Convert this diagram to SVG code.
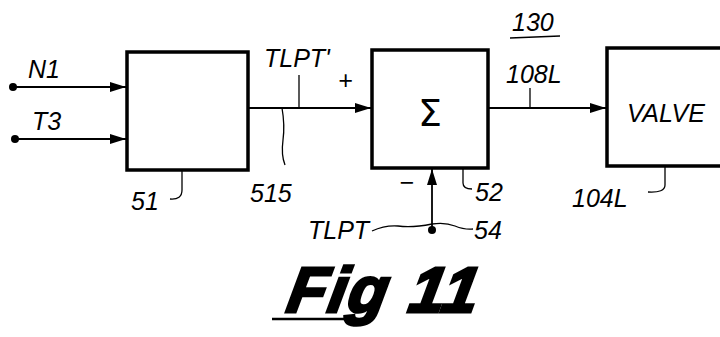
<svg xmlns="http://www.w3.org/2000/svg" width="720" height="337" viewBox="0 0 720 337">
<defs>
<style>
.box{fill:#fff;stroke:#000;stroke-width:3.5}
.ln{fill:none;stroke:#000;stroke-width:1.8}
.thin{fill:none;stroke:#000;stroke-width:1.3}
.lbl{font-family:"Liberation Sans",Arial,sans-serif;font-style:italic;font-size:25px;fill:#000}
</style>
<marker id="ah" markerWidth="16" markerHeight="10" refX="16" refY="5" orient="auto" markerUnits="userSpaceOnUse">
<path d="M0,0 L16,5 L0,10 Z" fill="#000"/>
</marker>
</defs>
<rect width="720" height="337" fill="#fff"/>
<g id="connectors">
<circle cx="13" cy="87" r="4" fill="#000"/>
<line class="ln" x1="13" y1="87" x2="126" y2="87" marker-end="url(#ah)"/>
<circle cx="15" cy="139" r="4" fill="#000"/>
<line class="ln" x1="15" y1="139" x2="126" y2="139" marker-end="url(#ah)"/>
<line class="ln" x1="249" y1="108" x2="371" y2="108" marker-end="url(#ah)"/>
<line class="ln" x1="489" y1="108" x2="606" y2="108" marker-end="url(#ah)"/>
<circle cx="432" cy="230" r="4" fill="#000"/>
<line class="ln" x1="432" y1="230" x2="432" y2="169" marker-end="url(#ah)"/>
</g>
<g id="inputs">
<text class="lbl" x="28" y="78">N1</text>
<text class="lbl" x="32" y="130">T3</text>
</g>
<g id="n51">
<rect class="box" x="127" y="52" width="121" height="118"/>
<path class="thin" d="M182,171 V190 Q182,200 170,199"/>
<text class="lbl" x="131" y="210">51</text>
</g>
<g id="tlpt-prime">
<text class="lbl" x="264" y="67">TLPT'</text>
<line class="thin" x1="299" y1="75" x2="299" y2="108"/>
<text class="lbl" x="338" y="89">+</text>
</g>
<g id="n515">
<path class="thin" d="M282,108 Q285,125 283,140 Q281,155 285,165"/>
<text class="lbl" x="250" y="202">515</text>
</g>
<g id="n52">
<rect class="box" x="372" y="50" width="116" height="118"/>
<text x="430" y="126" font-family="'DejaVu Sans',sans-serif" font-size="38" text-anchor="middle">Σ</text>
<path class="thin" d="M463,169 V183 Q463,189 472,189"/>
<text class="lbl" x="475" y="201">52</text>
<text class="lbl" x="399" y="191">−</text>
</g>
<g id="n54">
<text class="lbl" x="308" y="239">TLPT</text>
<path class="thin" d="M372,231 Q385,225 398,226 Q412,228 432,224"/>
<path class="thin" d="M432,224 Q445,222 455,226 Q465,230 473,229"/>
<text class="lbl" x="474" y="239">54</text>
</g>
<g id="n130">
<text class="lbl" x="512" y="31">130</text>
<line class="thin" x1="510" y1="38" x2="560" y2="36"/>
<text class="lbl" x="506" y="83">108L</text>
<line class="thin" x1="530" y1="88" x2="530" y2="108"/>
</g>
<g id="n104L">
<path class="box" d="M722,48 H607 V166 H722"/>
<text class="lbl" x="627" y="122">VALVE</text>
<path class="thin" d="M665,167 V185 Q665,193 648,192"/>
<text class="lbl" x="572" y="207">104L</text>
</g>
<g id="title">
<text x="0" y="0" font-family="'Liberation Sans',Arial,sans-serif" font-weight="bold" font-style="italic" font-size="64" stroke="#000" stroke-width="3" letter-spacing="2" transform="translate(285,312) skewX(-10)">Fig 11</text>
<line x1="272" y1="319" x2="368" y2="319" stroke="#000" stroke-width="2.5"/>
</g>
</svg>
